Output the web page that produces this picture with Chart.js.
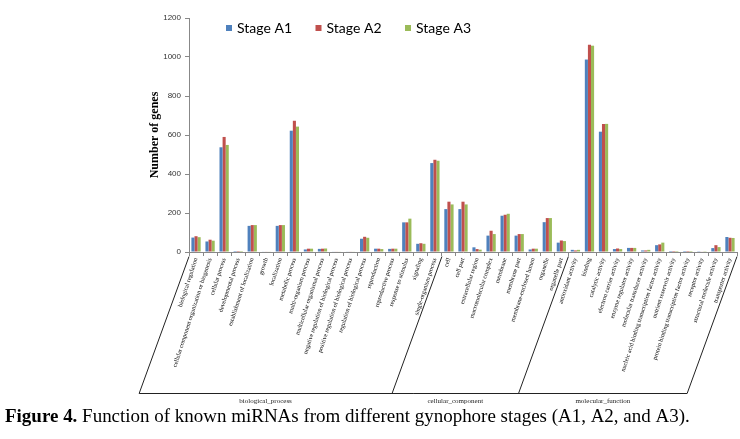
<!DOCTYPE html>
<html>
<head>
<meta charset="utf-8">
<script src="https://cdn.jsdelivr.net/npm/chart.js@4.4.1/dist/chart.umd.min.js"></script>
<style>
  html, body { margin: 0; padding: 0; background: #fff; }
  #wrap { width: 740px; height: 439px; }
</style>
</head>
<body>
<div id="wrap"><canvas id="chart" width="740" height="439"></canvas></div>
<script>
// categories, grouped by GO domain
const categories = [
  "biological regulation",
  "cellular component organization or biogenesis",
  "cellular process",
  "developmental process",
  "establishment of localization",
  "growth",
  "localization",
  "metabolic process",
  "multi-organism process",
  "multicellular organismal process",
  "negative regulation of biological process",
  "positive regulation of biological process",
  "regulation of biological process",
  "reproduction",
  "reproductive process",
  "response to stimulus",
  "signaling",
  "single-organism process",
  "cell",
  "cell part",
  "extracellular region",
  "macromolecular complex",
  "membrane",
  "membrane part",
  "membrane-enclosed lumen",
  "organelle",
  "organelle part",
  "antioxidant activity",
  "binding",
  "catalytic activity",
  "electron carrier activity",
  "enzyme regulator activity",
  "molecular transducer activity",
  "nucleic acid binding transcription factor activity",
  "nutrient reservoir activity",
  "protein binding transcription factor activity",
  "receptor activity",
  "structural molecule activity",
  "transporter activity",
];

const groupNames = ["biological_process", "cellular_component", "molecular_function"];
const groupSizes = [18, 9, 12];

const stageA1 = [74, 54, 537, 5, 134, 3, 134, 622, 13, 16, 3, 3, 68, 17, 16, 152, 42, 456,
  220, 220, 24, 84, 186, 84, 13, 153, 48,
  11, 987, 617, 15, 21, 8, 35, 5, 5, 4, 20, 77];
const stageA2 = [81, 63, 590, 5, 138, 3, 138, 673, 17, 17, 3, 3, 78, 17, 17, 152, 45, 473,
  258, 258, 15, 109, 191, 92, 17, 174, 59,
  8, 1063, 657, 18, 21, 8, 39, 5, 5, 3, 35, 73];
const stageA3 = [76, 58, 549, 5, 138, 3, 138, 643, 17, 18, 3, 3, 73, 15, 17, 171, 42, 468,
  244, 244, 12, 92, 196, 92, 17, 174, 56,
  11, 1058, 657, 15, 21, 11, 48, 5, 5, 4, 25, 72];

const yTicks = [0, 200, 400, 600, 800, 1000, 1200];

const captionBold = "Figure 4.";
const captionText = " Function of known miRNAs from different gynophore stages (A1, A2, and A3).";

// legend, group brackets and caption
const decor = {
  id: "decor",
  afterDraw(chart) {
    const ctx = chart.ctx;
    const x = chart.scales.x;
    const step = x.getPixelForValue(1) - x.getPixelForValue(0);
    const edgeX = i => x.getPixelForValue(0) + (i - 0.5) * step;
    const yTop = 256.5, yBot = 393.5;
    const shift = (yBot - yTop) / Math.tan(70 * Math.PI / 180);

    ctx.save();
    ctx.strokeStyle = "#222";
    ctx.lineWidth = 1;

    let edges = [0];
    groupSizes.forEach(n => edges.push(edges[edges.length - 1] + n));
    const bx = edges.map(edgeX);

    ctx.beginPath();
    bx.forEach(px => {
      ctx.moveTo(px, yTop);
      ctx.lineTo(px - shift, yBot);
    });
    ctx.moveTo(bx[0] - shift, yBot);
    ctx.lineTo(bx[bx.length - 1] - shift, yBot);
    ctx.stroke();

    ctx.fillStyle = "#222";
    ctx.font = "7px 'Liberation Serif'";
    ctx.textAlign = "center";
    ctx.textBaseline = "middle";
    groupNames.forEach((name, g) => {
      ctx.fillText(name, (bx[g] + bx[g + 1]) / 2 - shift, 401);
    });

    // legend
    ctx.font = "14px Lato";
    ctx.textAlign = "left";
    chart.data.datasets.forEach((ds, i) => {
      const lx = 226 + i * 89.5;
      ctx.fillStyle = ds.backgroundColor;
      ctx.fillRect(lx, 25, 6, 6);
      ctx.fillStyle = "#000";
      ctx.fillText(ds.label, lx + 11, 28.5);
    });

    // caption
    ctx.textBaseline = "alphabetic";
    let size = 17;
    ctx.font = "bold " + size + "px 'Liberation Serif'";
    let wb = ctx.measureText(captionBold).width;
    ctx.font = size + "px 'Liberation Serif'";
    let wt = ctx.measureText(captionText).width;
    size = size * 685 / (wb + wt);
    ctx.font = "bold " + size + "px 'Liberation Serif'";
    wb = ctx.measureText(captionBold).width;
    ctx.fillStyle = "#000";
    ctx.fillText(captionBold, 5, 422);
    ctx.font = size + "px 'Liberation Serif'";
    ctx.fillText(captionText, 5 + wb, 422);
    ctx.restore();
  }
};

const ctx = document.getElementById("chart").getContext("2d");
const myChart = new Chart(ctx, {
  type: "bar",
  data: {
    labels: categories,
    datasets: [
      { label: "Stage A1", data: stageA1, backgroundColor: "#4F81BD" },
      { label: "Stage A2", data: stageA2, backgroundColor: "#C0504D" },
      { label: "Stage A3", data: stageA3, backgroundColor: "#9BBB59" },
    ],
  },
  options: {
    responsive: false,
    animation: false,
    datasets: { bar: { barPercentage: 1, categoryPercentage: 0.66 } },
    layout: { padding: { left: 146, top: 18, right: 3, bottom: 0 } },
    plugins: { legend: { display: false }, tooltip: { enabled: false } },
    scales: {
      x: {
        grid: { drawOnChartArea: false, offset: true, tickLength: 4, color: "#888" },
        border: { color: "#888" },
        ticks: {
          autoSkip: false,
          minRotation: 72,
          maxRotation: 72,
          padding: 1,
          color: "#000",
          font: { family: "Liberation Serif", size: 6.2 },
        },
        afterFit(s) { s.height = 187; },
      },
      y: {
        min: 0,
        max: 1200,
        afterBuildTicks(s) { s.ticks = yTicks.map(v => ({ value: v })); },
        ticks: {
          padding: 4,
          color: "#333",
          font: { family: "Liberation Sans", size: 8 },
          callback: v => String(v),
        },
        grid: { drawOnChartArea: false, tickLength: 4, color: "#888" },
        border: { color: "#888" },
        title: {
          display: true,
          text: "Number of genes",
          color: "#000",
          font: { family: "Liberation Serif", size: 12, weight: "bold" },
          padding: { top: 2, bottom: 0 },
        },
        afterFit(s) { s.width = 43; },
      },
    },
  },
  plugins: [decor],
});
</script>
</body>
</html>
